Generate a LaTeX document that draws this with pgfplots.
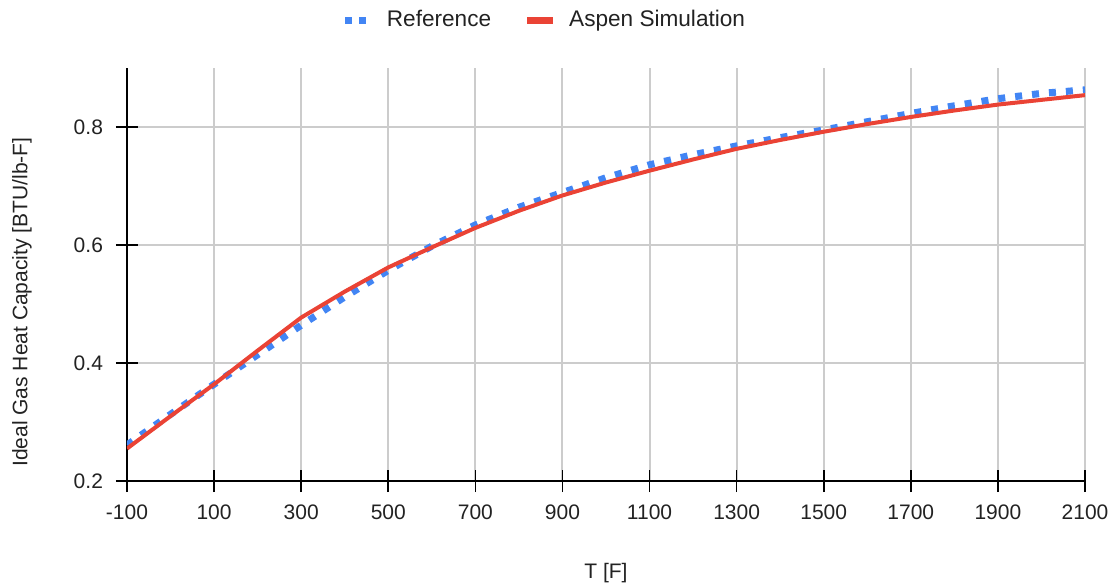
\documentclass[border=0pt]{standalone}
\usepackage{pgfplots}
\pgfplotsset{compat=1.18}
\usepackage{fontspec}
\setmainfont{Liberation Sans}
\definecolor{gblue}{HTML}{4285F4}
\definecolor{gred}{HTML}{EA4335}
\definecolor{ggrid}{HTML}{CCCCCC}
\definecolor{gtext}{HTML}{222222}
\pgfplotstableread{
T cp
-100 0.261
0 0.313
100 0.364
200 0.414
300 0.464
400 0.512
500 0.557
600 0.598
700 0.634
800 0.664
900 0.689
1000 0.714
1100 0.736
1200 0.753
1300 0.768
1400 0.782
1500 0.795
1600 0.809
1700 0.823
1800 0.836
1900 0.848
2000 0.857
2100 0.863
}\refdata
\pgfplotstableread{
T cp
-100 0.255
0 0.310
100 0.364
200 0.421
300 0.477
400 0.521
500 0.562
600 0.596
700 0.629
800 0.658
900 0.684
1000 0.706
1100 0.726
1200 0.745
1300 0.763
1400 0.778
1500 0.792
1600 0.805
1700 0.817
1800 0.828
1900 0.838
2000 0.846
2100 0.854
}\aspendata
\begin{document}
\begin{tikzpicture}
\path[use as bounding box] (-63.5pt,-52.5pt) rectangle (492.5pt,240.5pt);
\begin{axis}[
  scale only axis,
  width=479pt, height=206.5pt,
  xmin=-100, xmax=2100, ymin=0.2, ymax=0.9,
  xtick={-100,100,...,2100},
  xticklabels={-100,100,300,500,700,900,1100,1300,1500,1700,1900,2100},
  ytick={0.2,0.4,0.6,0.8},
  yticklabels={0.2,0.4,0.6,0.8},
  axis x line=bottom, axis y line=left,
  axis line style={-, black, line width=1pt},
  tick align=center, major tick length=11pt,
  tick style={black, line width=0.8pt},
  grid=major, major grid style={ggrid, line width=1pt},
  ticklabel style={font=\fontsize{10.5}{12}\selectfont, text=gtext},
  xticklabel style={yshift=-3pt},
  yticklabel style={xshift=-3pt},
  xlabel={T [F]}, ylabel={Ideal Gas Heat Capacity [BTU/lb-F]},
  label style={font=\fontsize{10.5}{12}\selectfont, text=gtext},
  xlabel style={at={(axis description cs:0.5,-0.2228)}, anchor=center},
  ylabel style={at={(axis description cs:-0.1096,0.433)}, anchor=center, rotate=0},
  legend columns=2,
  legend style={at={(0.4384,1.116)}, anchor=center, draw=none, fill=none,
    font=\fontsize{11.3}{13}\selectfont, text=gtext,
    /tikz/every even column/.append style={column sep=16pt},
    inner sep=0pt},
]
\addplot[gblue, line width=3.5pt, dash pattern=on 3.5pt off 5pt,
  legend image code/.code={%
    \fill[gblue, draw=none, solid] (0,-1.75pt) rectangle (3.5pt,1.75pt);
    \fill[gblue, draw=none, solid] (7pt,-1.75pt) rectangle (10.5pt,1.75pt);
    \path[draw=none] (0,0) -- (19pt,0);}]
  table[x=T,y=cp]{\refdata};
\addlegendentry{Reference}
\addplot[gred, line width=2pt,
  legend image code/.code={%
    \fill[gred, draw=none, solid] (0,-1.75pt) rectangle (13pt,1.75pt);
    \path[draw=none] (0,0) -- (19pt,0);}]
  table[x=T,y=cp]{\aspendata};
\addlegendentry{Aspen Simulation}
\end{axis}
\end{tikzpicture}
\end{document}
